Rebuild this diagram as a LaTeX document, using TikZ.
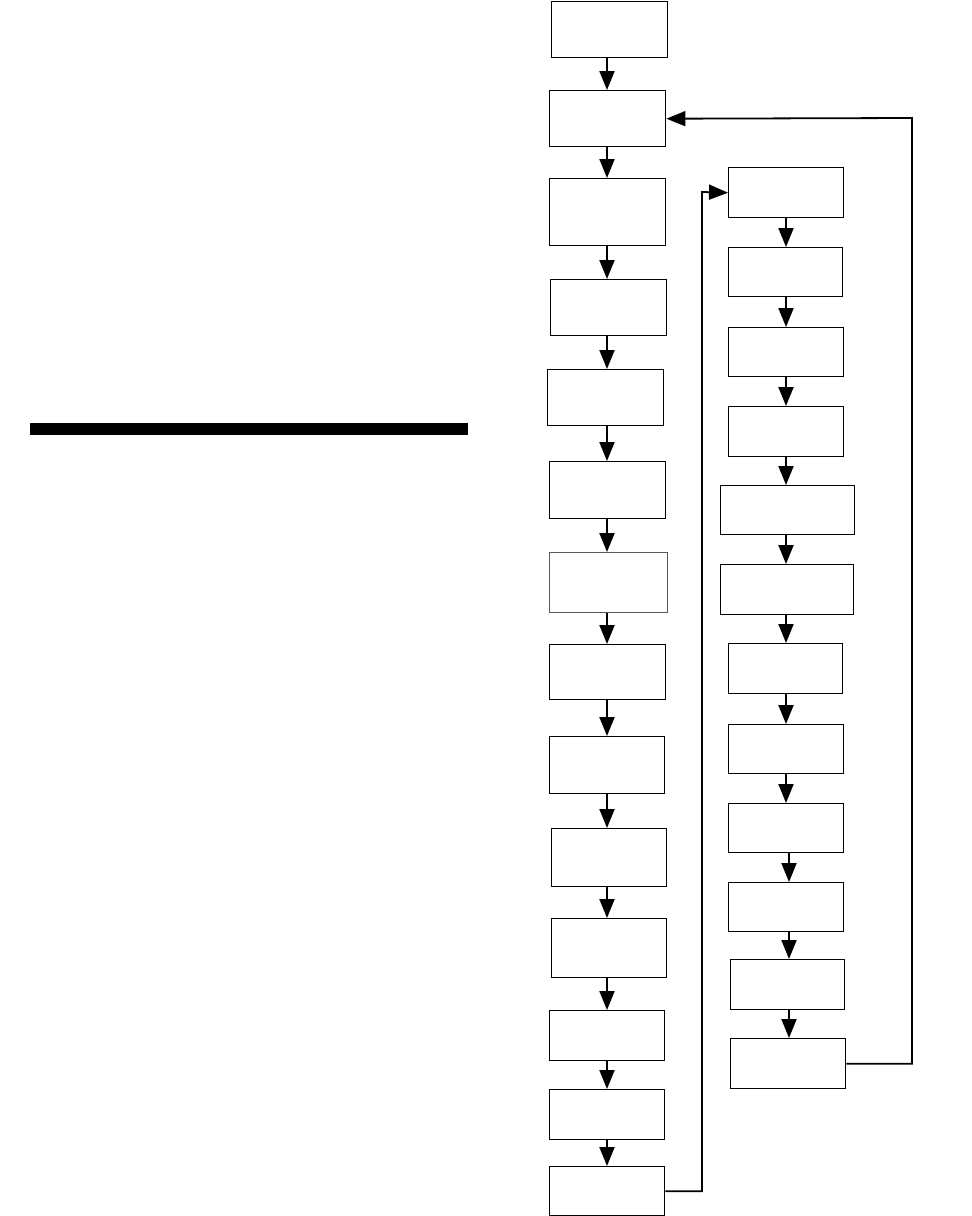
\documentclass[tikz,border=0pt]{standalone}
\usetikzlibrary{arrows.meta}
\begin{document}
\begin{tikzpicture}[x=1pt,y=-1pt,
  box/.style={draw=black,line width=1.4pt,fill=white,anchor=north west,inner sep=0pt},
  arr/.style={line width=2pt,-{Triangle[width=15pt,length=19pt]}},
  fb/.style={line width=1.8pt,draw=black,-{Triangle[width=15pt,length=19pt]}}]
\useasboundingbox (0,0) rectangle (972,1216);
% thick bar
\fill[black] (30,423) rectangle (468,435);
% left column
\node[box,minimum width=116pt,minimum height=56pt] (L1) at (551,1) {};
\node[box,minimum width=116pt,minimum height=56pt] (L2) at (549,90) {};
\node[box,minimum width=116pt,minimum height=67pt] (L3) at (549,178) {};
\node[box,minimum width=116pt,minimum height=56pt] (L4) at (550,279) {};
\node[box,minimum width=116pt,minimum height=56pt] (L5) at (547,369) {};
\node[box,minimum width=116pt,minimum height=57pt] (L6) at (549,461) {};
\node[box,draw=black!65,line width=1.1pt,minimum width=118pt,minimum height=60pt] (L7) at (549,552) {};
\node[box,minimum width=116pt,minimum height=55pt] (L8) at (549,644) {};
\node[box,minimum width=115pt,minimum height=57pt] (L9) at (549,736) {};
\node[box,minimum width=115pt,minimum height=58pt] (L10) at (551,828) {};
\node[box,minimum width=115pt,minimum height=59pt] (L11) at (551,918) {};
\node[box,minimum width=115pt,minimum height=50pt] (L12) at (549,1010) {};
\node[box,minimum width=115pt,minimum height=50pt] (L13) at (549,1089) {};
\node[box,minimum width=115pt,minimum height=49pt] (L14) at (549,1166) {};
% right column
\node[box,minimum width=115pt,minimum height=50pt] (R1) at (728,167) {};
\node[box,minimum width=114pt,minimum height=49pt] (R2) at (728,247) {};
\node[box,minimum width=115pt,minimum height=49pt] (R3) at (728,327) {};
\node[box,minimum width=115pt,minimum height=50pt] (R4) at (728,406) {};
\node[box,minimum width=134pt,minimum height=49pt] (R5) at (720,485) {};
\node[box,minimum width=133pt,minimum height=50pt] (R6) at (720,564) {};
\node[box,minimum width=114pt,minimum height=50pt] (R7) at (728,643) {};
\node[box,minimum width=115pt,minimum height=49pt] (R8) at (728,724) {};
\node[box,minimum width=115pt,minimum height=49pt] (R9) at (728,803) {};
\node[box,minimum width=115pt,minimum height=49pt] (R10) at (728,882) {};
\node[box,minimum width=114pt,minimum height=50pt] (R11) at (730,959) {};
\node[box,minimum width=115pt,minimum height=50pt] (R12) at (730,1038) {};
% left arrows
\coordinate (lx) at (607,0);
\foreach \a/\b in {L1/L2,L2/L3,L3/L4,L4/L5,L5/L6,L6/L7,L7/L8,L8/L9,L9/L10,L10/L11,L11/L12,L12/L13,L13/L14}
  \draw[arr] (\a.south -| lx) -- (\b.north -| lx);
% right arrows
\coordinate (rx) at (786,0);
\coordinate (rx2) at (789,0);
\foreach \a/\b in {R1/R2,R2/R3,R3/R4,R4/R5,R5/R6,R6/R7,R7/R8,R8/R9}
  \draw[arr] (\a.south -| rx) -- (\b.north -| rx);
\foreach \a/\b in {R9/R10,R10/R11,R11/R12}
  \draw[arr] (\a.south -| rx2) -- (\b.north -| rx2);
% feedback connectors
\coordinate (fbA) at (912,118);
\draw[fb] (R12.east) -| (fbA) -- (L2.east);
\coordinate (fbB) at (702,192);
\draw[fb] (L14.east) -| (fbB) -- (R1.west);
\end{tikzpicture}
\end{document}
